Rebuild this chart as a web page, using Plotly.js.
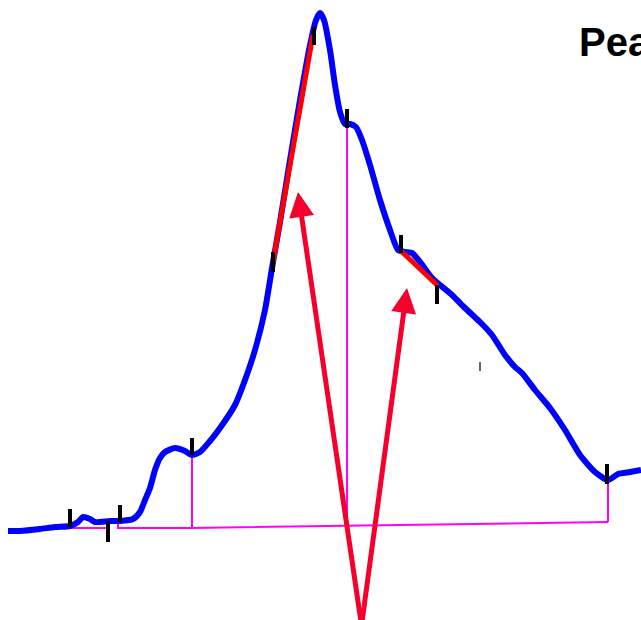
<!DOCTYPE html>
<html><head><meta charset="utf-8">
<script src="https://cdn.plot.ly/plotly-3.0.1.min.js"></script>
<style>html,body{margin:0;padding:0;background:#fff;overflow:hidden}</style>
</head><body><div id="chart" style="width:641px;height:620px"></div>
<script>
// Signal trace (blue)
const sigX = [8,20,40,55,70,78,83,90,95,110,120,133,140,145,150,155,160,165,175,185,192,200,210,220,235,245,255,265,272,280,290,300,310,316,320,324,330,335,340,345,350,356,362,370,380,390,398,405,412,420,432,440,452,465,480,492,505,515,522,535,550,565,580,595,608,618,630,641];
const sigY = [531,531,529,527,526,522,517,519,522,521,521,519,512,500,488,470,458,452,448,451,455,452,441,428,405,380,350,310,268,222,160,100,45,20,13,20,50,85,112,124,124,127,140,165,200,230,250,252,253,262,278,285,295,308,322,335,355,367,373,390,408,430,455,472,480,474,472,470];
// Marker ticks (black)
const tickX = [70,108,120,192,273,314,347,401,437,607];
const tickTop = [509,521,505,438,252,27,109,235,285,464];
const tickBot = [527,542,522,455,272,45,128,253,304,484];
// Small thin tick
const thinX = [480], thinTop = [362], thinBot = [371];
// Baseline construction (magenta)
const baseX = [70,108,null,118,118,192,608,null,192,192,null,347,347,null,608,608];
const baseY = [528,528,null,522,528,528,522,null,528,455,null,527,125,null,522,480];
// Slope segments (red)
const slopeX = [273,313,null,400,438];
const slopeY = [262,35,null,250,286];
// Arrows (red): tail -> head
const arrTailX = [361,362], arrTailY = [622,622];
const arrHeadX = [298,407], arrHeadY = [192,288];

function seg(xs, tops, bots){const X=[],Y=[];xs.forEach((x,i)=>{X.push(x,x,null);Y.push(tops[i],bots[i],null);});return [X,Y];}
const [tX,tY]=seg(tickX,tickTop,tickBot);
const [thX,thY]=seg(thinX,thinTop,thinBot);

const traces = [
 {x:baseX,y:baseY,mode:'lines',line:{color:'#ff00ff',width:2},hoverinfo:'skip'},
 {x:sigX,y:sigY,mode:'lines',line:{color:'#0000ff',width:6,shape:'spline',smoothing:0.6},hoverinfo:'skip'},
 {x:slopeX,y:slopeY,mode:'lines',line:{color:'#ff0000',width:5},hoverinfo:'skip'},
 {x:tX,y:tY,mode:'lines',line:{color:'#000000',width:4},hoverinfo:'skip'},
 {x:thX,y:thY,mode:'lines',line:{color:'#000000',width:1.2},hoverinfo:'skip'}
];
const annotations = arrHeadX.map((hx,i)=>({x:hx,y:arrHeadY[i],ax:arrTailX[i],ay:arrTailY[i],axref:'x',ayref:'y',xref:'x',yref:'y',text:'',showarrow:true,arrowhead:2,arrowsize:1,arrowwidth:5,arrowcolor:'#f5002d'}));
annotations.push({x:577,y:42,xref:'x',yref:'y',xanchor:'left',yanchor:'middle',text:'<b>Peak</b>',showarrow:false,font:{family:'Liberation Sans, Arial, sans-serif',size:40,color:'#000'}});

Plotly.newPlot('chart',traces,{
 width:641,height:620,margin:{l:0,r:0,t:0,b:0},
 paper_bgcolor:'#fff',plot_bgcolor:'#fff',showlegend:false,
 xaxis:{range:[0,641],visible:false,fixedrange:true},
 yaxis:{range:[620,0],visible:false,fixedrange:true},
 annotations:annotations
},{staticPlot:true});
</script></body></html>
